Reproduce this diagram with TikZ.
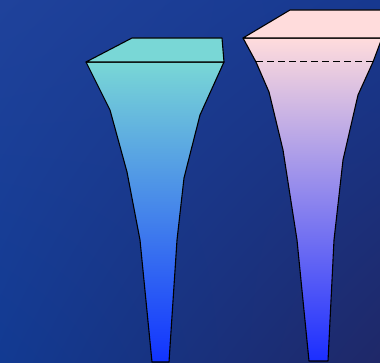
\documentclass[tikz,border=0pt]{standalone}
\usetikzlibrary{shadings}
\begin{document}
\begin{tikzpicture}[x=1pt,y=-1pt,
  outline/.style={draw=black,line width=1.1pt,line join=round},
  rim/.style={outline}]
\definecolor{bgUL}{HTML}{1F429B}
\definecolor{bgUR}{HTML}{17388F}
\definecolor{bgLL}{HTML}{123A92}
\definecolor{bgLR}{HTML}{1F2868}
\definecolor{tealtop}{HTML}{79D7D6}
\definecolor{bluebot}{HTML}{1133FF}
\definecolor{pinktop}{HTML}{FFDCDC}
\definecolor{bluebotb}{HTML}{1B2EFF}
\useasboundingbox (0,0) rectangle (380,363);
\clip (0,0) rectangle (380,363);
\shade[upper left=bgUL,upper right=bgUR,lower left=bgLL,lower right=bgLR] (0,0) rectangle (380,363);
% left glass
\shade[top color=tealtop,bottom color=bluebot,outline]
  (86,62) -- (110,110) -- (127,172) -- (140,240) -- (152,362) -- (169,362)
  -- (177,240) -- (184,178) -- (200,115) -- (224,62) -- cycle;
\fill[tealtop,rim] (86,62) -- (132,38) -- (222,38) -- (224,62) -- cycle;
% right glass
\shade[top color=pinktop,bottom color=bluebotb,outline]
  (243,38) -- (256,62) -- (269,92) -- (283,150) -- (297,240) -- (309,361) -- (328,361)
  -- (334,240) -- (343,160) -- (358,95) -- (373,62) -- (382,38) -- cycle;
\fill[pinktop,rim] (243,38) -- (290,10) -- (395,10) -- (382,38) -- cycle;
\draw[line width=1pt,dash pattern=on 7pt off 4pt] (256,62) -- (373,62);
\end{tikzpicture}
\end{document}
